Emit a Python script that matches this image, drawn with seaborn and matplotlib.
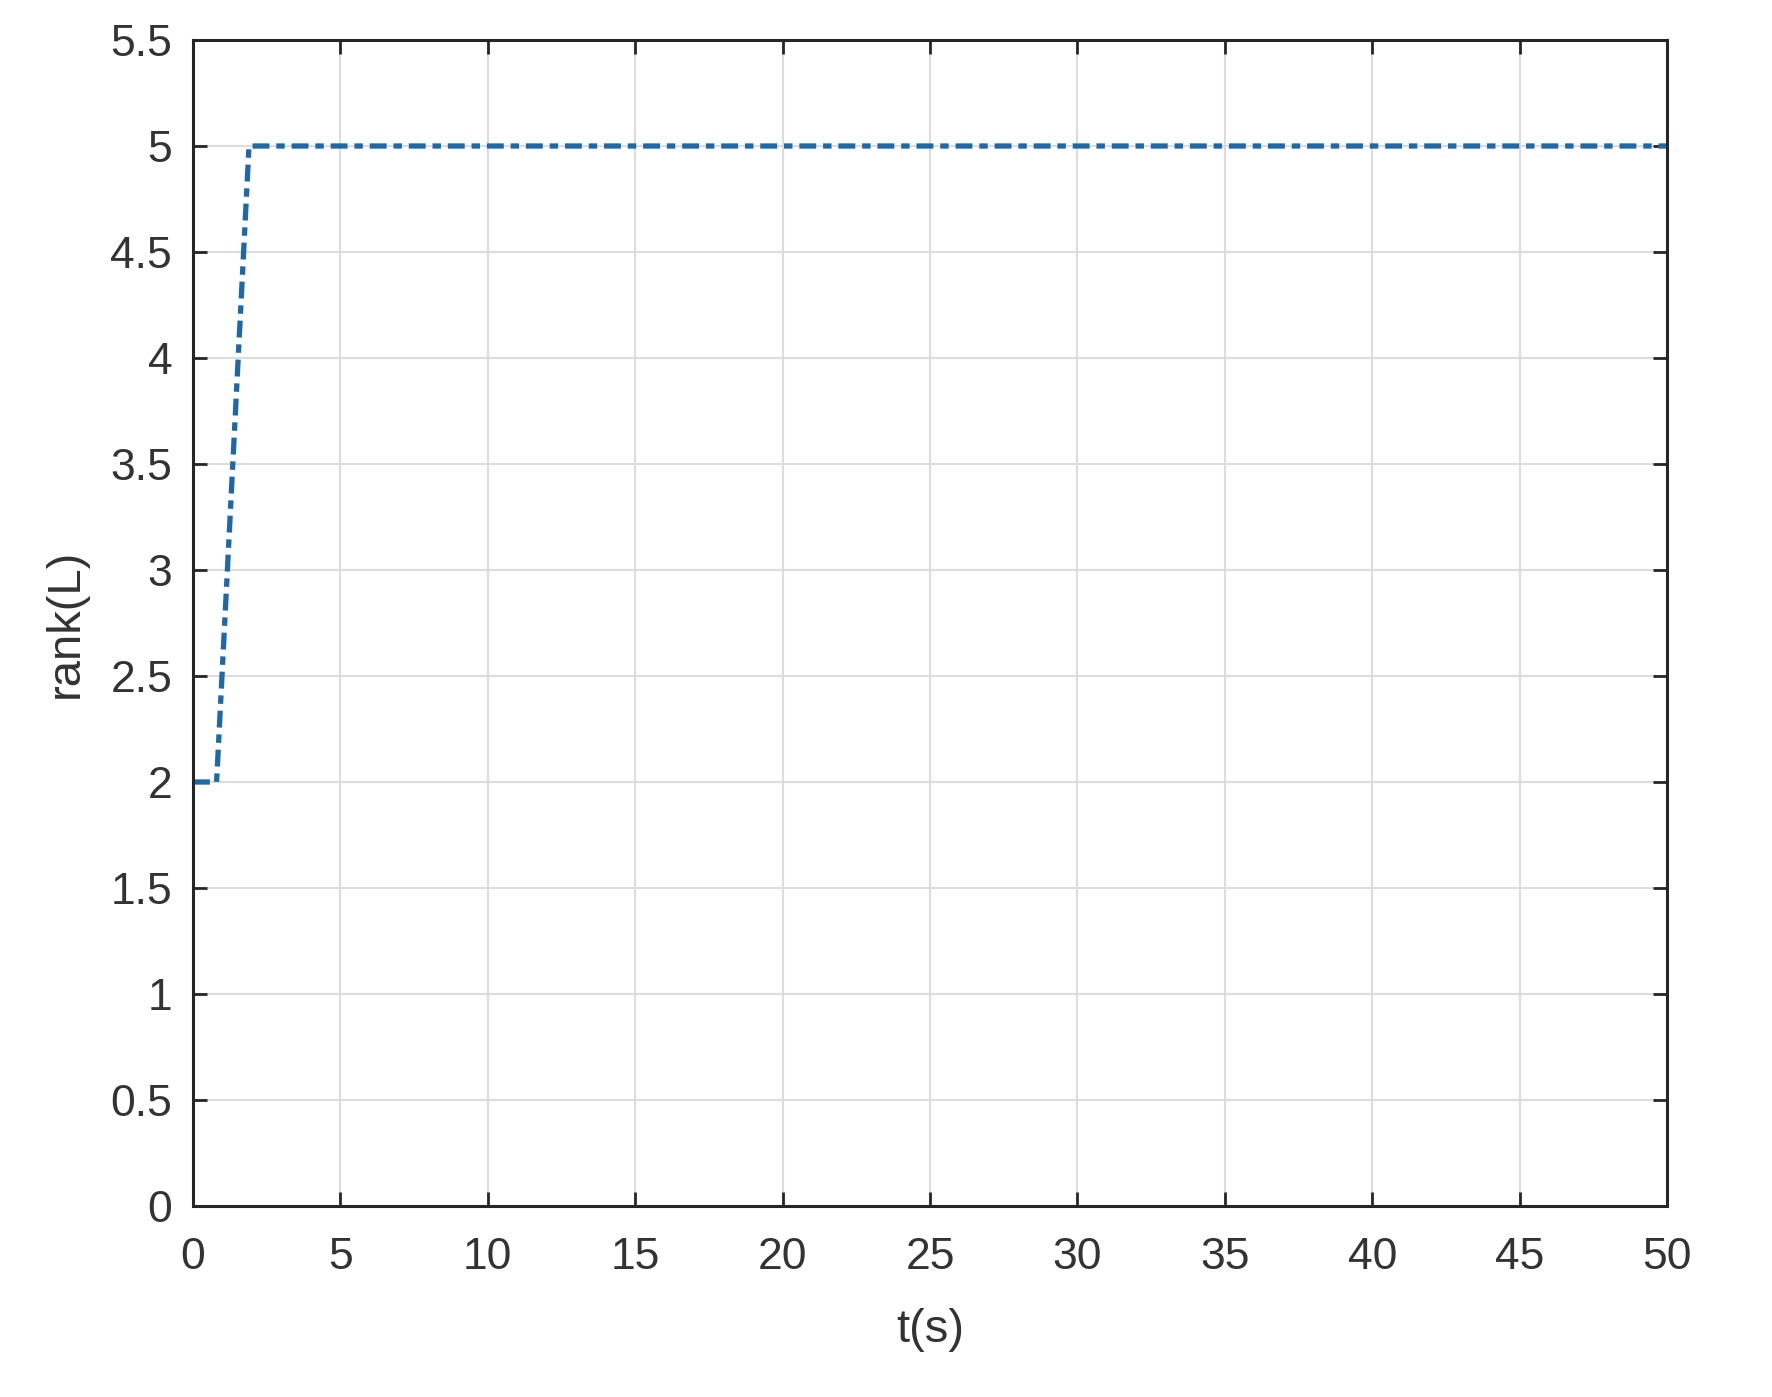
import numpy as np
import pandas as pd
import matplotlib
matplotlib.use("Agg")
import matplotlib.pyplot as plt
import seaborn as sns

# rank of the Laplacian over time
t_s = [0.0, 0.8, 1.9, 50.0]
rank_L = [2, 2, 5, 5]
x_ticks = [0, 5, 10, 15, 20, 25, 30, 35, 40, 45, 50]
y_ticks = [0, 0.5, 1, 1.5, 2, 2.5, 3, 3.5, 4, 4.5, 5, 5.5]

df = pd.DataFrame({"t": t_s, "rank": rank_L})

sns.set_style("whitegrid")
plt.rcParams["font.family"] = ["Liberation Sans", "DejaVu Sans"]

fig, ax = plt.subplots(figsize=(17.72, 13.97), dpi=100)
fig.subplots_adjust(left=193 / 1772, right=1667 / 1772, top=1 - 40 / 1397, bottom=1 - 1206 / 1397)

sns.lineplot(data=df, x="t", y="rank", ax=ax, color="#1f68a8", linewidth=3.8,
             linestyle="-.", dashes=False)
ax.lines[0].set_linestyle((0, (3.2, 1.3, 1.6, 1.3)))

ax.set_xlim(0, 50)
ax.set_ylim(0, 5.5)
ax.set_xticks(x_ticks)
ax.set_yticks(y_ticks)
ax.set_xticklabels([str(v) for v in x_ticks])
ax.set_yticklabels([f"{v:g}" for v in y_ticks])
ax.grid(True, color="#dcdcdc", linewidth=1.5)
for s in ax.spines.values():
    s.set_color("#262626")
    s.set_linewidth(2.2)
ax.tick_params(direction="in", length=10, width=2, colors="#262626",
               labelsize=32, top=True, right=True, left=True, bottom=True,
               labelcolor="#333333")
ax.tick_params(axis="x", pad=22)
ax.tick_params(axis="y", pad=15)
ax.set_xlabel("t(s)", fontsize=34, color="#333333", labelpad=22)
ax.set_ylabel("rank(L)", fontsize=34, color="#333333", labelpad=16)

fig.savefig("out.png", dpi=100, facecolor="white")
